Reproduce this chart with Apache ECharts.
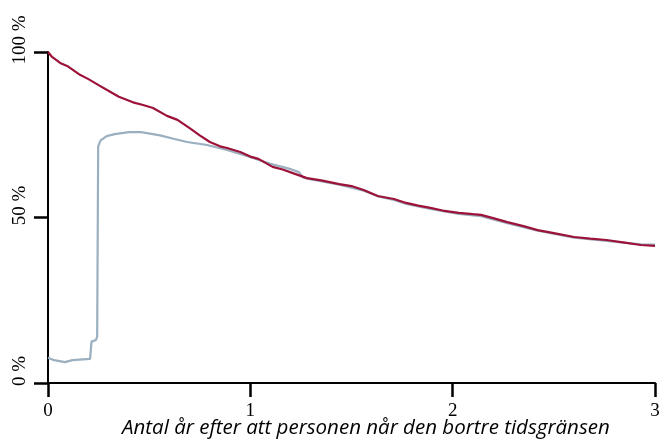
<!DOCTYPE html>
<html lang="sv">
<head>
    <meta charset="UTF-8">
    <title>Andel kvar</title>
    <style>
        html, body { margin: 0; padding: 0; background: #fff; }
        #chart { width: 665px; height: 441px; }
    </style>
    <script src="https://cdn.jsdelivr.net/npm/echarts@6/dist/echarts.min.js"></script>
</head>
<body>
    <div id="chart"></div>
    <script>
        // år efter tidsgränsen, andel (%)
        var redLine = [
            [0, 100], [0.02, 98.5], [0.06, 96.7], [0.1, 95.6], [0.158, 93.1], [0.2, 91.8],
            [0.25, 90.0], [0.292, 88.5], [0.35, 86.5], [0.42, 84.8], [0.47, 84.0], [0.519, 83.1],
            [0.588, 80.7], [0.64, 79.5], [0.7, 77.0], [0.75, 74.8], [0.8, 72.8], [0.85, 71.5],
            [0.885, 71.0], [0.95, 69.8], [1.0, 68.4], [1.04, 67.7], [1.11, 65.3], [1.16, 64.5],
            [1.21, 63.4], [1.28, 61.9], [1.35, 61.2], [1.44, 60.1], [1.5, 59.5], [1.56, 58.3],
            [1.63, 56.5], [1.71, 55.6], [1.77, 54.4], [1.83, 53.6], [1.89, 52.9], [1.95, 52.1],
            [2.03, 51.4], [2.1, 51.0], [2.14, 50.8], [2.2, 49.8], [2.27, 48.6], [2.35, 47.4],
            [2.42, 46.2], [2.5, 45.3], [2.6, 44.1], [2.68, 43.6], [2.76, 43.2], [2.85, 42.4],
            [2.93, 41.7], [3.0, 41.4]
        ];
        var grayLine = [
            [0, 7.6], [0.03, 6.9], [0.084, 6.3], [0.12, 6.9], [0.208, 7.3], [0.215, 12.5],
            [0.237, 13.0], [0.243, 14], [0.248, 71.5], [0.26, 73.3], [0.29, 74.6], [0.33, 75.2],
            [0.4, 75.8], [0.46, 75.8], [0.554, 74.8], [0.62, 73.8], [0.687, 72.8], [0.786, 71.9],
            [0.885, 70.4], [0.95, 69.2], [1.013, 68.0], [1.1, 66.2], [1.2, 64.6], [1.24, 63.7],
            [1.26, 62.1], [1.3, 61.5], [1.44, 59.9], [1.56, 58.1], [1.63, 56.4], [1.71, 55.3],
            [1.77, 54.1], [1.89, 52.6], [2.03, 51.1], [2.14, 50.4], [2.27, 48.3], [2.42, 46.0],
            [2.6, 43.9], [2.76, 42.9], [2.93, 41.9], [3.0, 41.8]
        ];
        var xName = 'Antal år efter att personen når den bortre tidsgränsen';

        var myChart = echarts.init(document.getElementById('chart'));
        var axisCol = '#000';
        option = {
            animation: false,
            // axelns namn som titel, så att det hamnar exakt
            title: {
                text: xName,
                left: 122,
                top: 418,
                padding: 0,
                textStyle: {
                    fontFamily: 'Open Sans',
                    fontStyle: 'italic',
                    fontWeight: 'normal',
                    fontSize: 20.5,
                    color: '#000'
                }
            },
            grid: { left: 48, right: 10, top: 52, bottom: 58, outerBoundsMode: 'none' },
            xAxis: {
                type: 'value',
                min: 0,
                max: 3,
                interval: 1,
                axisLine: { show: true, onZero: false, lineStyle: { color: axisCol, width: 2 } },
                axisTick: { show: true, length: 14, lineStyle: { color: axisCol, width: 2.5 } },
                axisLabel: {
                    margin: 19,
                    fontFamily: 'Liberation Serif',
                    fontSize: 19,
                    color: '#000'
                },
                splitLine: { show: false }
            },
            yAxis: {
                type: 'value',
                min: 0,
                max: 100,
                interval: 50,
                axisLine: { show: true, lineStyle: { color: axisCol, width: 2 } },
                axisTick: { show: true, length: 14, lineStyle: { color: axisCol, width: 2.5 } },
                axisLabel: {
                    rotate: 90,
                    margin: 18,
                    padding: [0, 0, 0, 24],
                    fontFamily: 'Liberation Serif',
                    fontSize: 19,
                    color: '#000',
                    formatter: '{value} %'
                },
                splitLine: { show: false }
            },
            series: [
                {
                    type: 'line',
                    data: grayLine,
                    showSymbol: false,
                    lineStyle: { color: '#9aafbf', width: 2.2 }
                },
                {
                    type: 'line',
                    data: redLine,
                    showSymbol: false,
                    lineStyle: { color: '#9c1239', width: 2.2 }
                }
            ]
        };
        myChart.setOption(option);
    </script>
</body>
</html>
